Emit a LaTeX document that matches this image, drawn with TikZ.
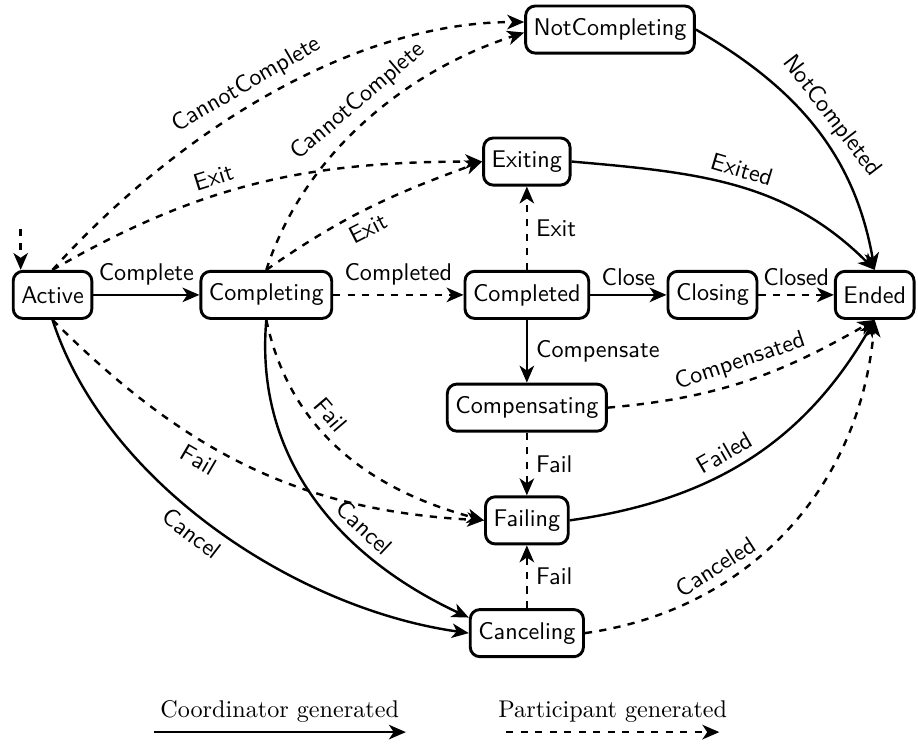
\documentclass[tikz,border=0pt]{standalone}
\usepackage{tikz}
\usetikzlibrary{arrows.meta, positioning}

\begin{document}
\begin{tikzpicture}[
    font=\sffamily,
    on grid,
    state/.style={rectangle, draw, very thick, rounded corners, minimum height=19.5pt, align=center},
    coord/.style={-{Stealth[length=7pt, width=6pt, inset=2pt]}, line width=1pt},
    part/.style={coord, dashed}
]
    \useasboundingbox (-0.764,-6.52) rectangle (12.59,4.29);

    % main row
    \node[state] (active) {Active};
    \node[state, right=3.11cm of active] (completing) {Completing};
    \node[state, right=3.79cm of completing] (completed) {Completed};
    \node[state, right=2.70cm of completed] (closing) {Closing};
    \node[state, right=2.36cm of closing] (ended) {Ended};

    % column through Completed
    \node[state, above=1.94cm of completed] (exiting) {Exiting};
    \node[state, above right=1.92cm and 1.21cm of exiting] (notcompleting) {NotCompleting};
    \node[state, below=1.64cm of completed] (compensating) {Compensating};
    \node[state, below=1.64cm of compensating] (failing) {Failing};
    \node[state, below=1.64cm of failing] (canceling) {Canceling};

    % initial state
    \coordinate (init) at ([xshift=0.13cm, yshift=0.6cm]active.north west);
    \draw[part] (init) -- (init |- active.north);

    % straight transitions
    \draw[coord] (active) -- node[above] {Complete} (completing);
    \draw[part] (completing) -- node[above] {Completed} (completed);
    \draw[coord] (completed) -- node[above] {Close} (closing);
    \draw[part] (closing) -- node[above] {Closed} (ended);
    \draw[part] (completed) -- node[right] {Exit} (exiting);
    \draw[coord] (completed) -- node[right] {Compensate} (compensating);
    \draw[part] (compensating) -- node[right] {Fail} (failing);
    \draw[part] (canceling) -- node[right] {Fail} (failing);

    % upper curves
    \draw[part] (active.north) to[out=48, in=180, looseness=0.85] node[above, sloped, pos=0.48] {CannotComplete} (notcompleting.175);
    \draw[part] (completing.north) to[out=72, in=198, looseness=0.9] node[above, sloped, pos=0.52] {CannotComplete} (notcompleting.182);
    \draw[part] (active.north) to[out=30, in=180] node[above, sloped, pos=0.4] {Exit} (exiting.west);
    \draw[part] (completing.north) to[out=35, in=200] node[below, sloped, pos=0.45] {Exit} (exiting.west);
    \draw[coord] (exiting.east) to[out=-5, in=135] node[above, sloped, pos=0.5] {Exited} (ended.north);
    \draw[coord] (notcompleting.east) to[out=-30, in=100] node[above, sloped] {NotCompleted} (ended.north);

    % lower curves
    \draw[part] (active.south) to[out=-45, in=177] node[below, sloped, pos=0.4] {Fail} (failing.west);
    \draw[part] (completing.south) to[out=-78, in=165] node[above, sloped, pos=0.38] {Fail} (failing.west);
    \draw[coord] (active.south) to[out=-72, in=172, looseness=0.85] node[below, sloped, pos=0.47] {Cancel} (canceling.west);
    \draw[coord] (completing.south) to[out=-95, in=155] node[above, sloped, pos=0.65] {Cancel} (canceling.165);
    \draw[part] (compensating.east) to[out=5, in=210] node[above, sloped] {Compensated} (ended.south);
    \draw[coord] (failing.east) to[out=8, in=240] node[above, sloped, pos=0.45] {Failed} (ended.south);
    \draw[part] (canceling.east) to[out=8, in=265] node[above, sloped, pos=0.32] {Canceled} (ended.south);

    % legend
    \coordinate (coordstart) at (1.47,-6.36);
    \coordinate (coordend) at (5.14,-6.36);
    \coordinate (partstart) at (6.60,-6.36);
    \coordinate (partend) at (9.70,-6.36);
    \draw[coord] (coordstart) -- node[above, font=\rmfamily] {Coordinator generated} (coordend);
    \draw[part] (partstart) -- node[above, font=\rmfamily] {Participant generated} (partend);
\end{tikzpicture}
\end{document}
